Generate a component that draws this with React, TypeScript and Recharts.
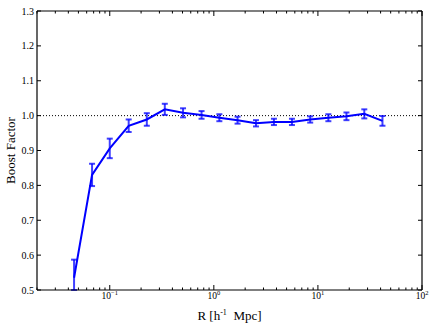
import { ComposedChart, ErrorBar, Line, ReferenceLine, XAxis, YAxis } from "recharts";

// projected radius bins and the measured boost factor
const radius = [0.0454, 0.0676, 0.1, 0.152, 0.227, 0.338, 0.506, 0.762, 1.13, 1.69, 2.54, 3.78, 5.63, 8.43, 12.6, 18.8, 27.9, 41.7];
const boost = [0.535, 0.83, 0.906, 0.971, 0.989, 1.018, 1.008, 1.002, 0.994, 0.987, 0.978, 0.982, 0.982, 0.989, 0.994, 0.998, 1.005, 0.985];
const boostErr = [0.052, 0.032, 0.028, 0.018, 0.018, 0.016, 0.013, 0.011, 0.01, 0.01, 0.009, 0.009, 0.009, 0.009, 0.01, 0.011, 0.013, 0.014];

const xMajorTicks = [0.1, 1, 10, 100];
const xExponents = ["\u22121", "0", "1", "2"];
const xMinorTicks = [
  0.02, 0.03, 0.04, 0.05, 0.06, 0.07, 0.08, 0.09,
  0.2, 0.3, 0.4, 0.5, 0.6, 0.7, 0.8, 0.9,
  2, 3, 4, 5, 6, 7, 8, 9,
  20, 30, 40, 50, 60, 70, 80, 90,
];
const yTicks = [0.5, 0.6, 0.7, 0.8, 0.9, 1.0, 1.1, 1.2, 1.3];
const yTickLabels = ["0.5", "0.6", "0.7", "0.8", "0.9", "1.0", "1.1", "1.2", "1.3"];

const Y_MIN = 0.5;
const Y_MAX = 1.3;

// error bars get clipped at the bottom of the axes like matplotlib does
const data = radius.map((r, i) => ({
  r,
  boost: boost[i],
  err: [Math.min(boostErr[i], boost[i] - Y_MIN), boostErr[i]],
}));
const allXTicks = [...xMajorTicks, ...xMinorTicks];

const FONT = '"Liberation Serif", "DejaVu Serif", serif';
const BLUE = "#0000ff";

function BottomTick(props: any) {
  const { x, y, payload } = props;
  const i = xMajorTicks.indexOf(payload.value);
  const major = i >= 0;
  return (
    <g>
      <line x1={x} x2={x} y1={y} y2={y - (major ? 5 : 2.5)} stroke="#000" />
      {major && (
        <text x={x} y={y + 8.5} textAnchor="middle" fontFamily={FONT} fontSize={9.5} fill="#000">
          10
          <tspan dy={-4} fontSize={6.5}>
            {xExponents[i]}
          </tspan>
        </text>
      )}
    </g>
  );
}

function TopTick(props: any) {
  const { x, y, payload } = props;
  const major = xMajorTicks.includes(payload.value);
  return <line x1={x} x2={x} y1={y} y2={y + (major ? 5 : 2.5)} stroke="#000" />;
}

function LeftTick(props: any) {
  const { x, y, payload } = props;
  const i = yTicks.indexOf(payload.value);
  return (
    <g>
      <line x1={x} x2={x + 4} y1={y} y2={y} stroke="#000" />
      <text x={x - 3} y={y + 3.5} textAnchor="end" fontFamily={FONT} fontSize={10} fill="#000">
        {yTickLabels[i]}
      </text>
    </g>
  );
}

function RightTick(props: any) {
  const { x, y } = props;
  return <line x1={x} x2={x - 4} y1={y} y2={y} stroke="#000" />;
}

function XLabel(props: any) {
  const vb = props.viewBox;
  return (
    <text x={vb.x + vb.width / 2} y={vb.y + 30} textAnchor="middle" fontFamily={FONT} fontSize={13} fill="#000">
      R [h
      <tspan dy={-5} fontSize={8}>
        -1
      </tspan>
      <tspan dy={5}>{"\u00a0 Mpc]"}</tspan>
    </text>
  );
}

function YLabel(props: any) {
  const vb = props.viewBox;
  const cx = vb.x + 15;
  const cy = vb.y + vb.height / 2;
  return (
    <text
      x={cx}
      y={cy}
      transform={`rotate(-90 ${cx} ${cy})`}
      textAnchor="middle"
      fontFamily={FONT}
      fontSize={13}
      fill="#000"
    >
      Boost Factor
    </text>
  );
}

export default function App() {
  return (
    <div style={{ position: "absolute", left: 0, top: 0, background: "#fff" }}>
      <ComposedChart width={436} height={329} data={data} margin={{ top: 10, right: 13, bottom: 0, left: 0 }}>
        <XAxis
          dataKey="r"
          type="number"
          scale="log"
          domain={[0.02, 100]}
          allowDataOverflow
          ticks={allXTicks}
          interval={0}
          height={39}
          tickSize={0}
          tickMargin={0}
          tickLine={false}
          tick={BottomTick}
          axisLine={{ stroke: "#000", strokeWidth: 1.2 }}
          label={XLabel}
        />
        <XAxis
          xAxisId="top"
          dataKey="r"
          orientation="top"
          type="number"
          scale="log"
          domain={[0.02, 100]}
          allowDataOverflow
          ticks={allXTicks}
          interval={0}
          height={1}
          tickSize={0}
          tickMargin={0}
          tickLine={false}
          tick={TopTick}
          axisLine={{ stroke: "#000", strokeWidth: 1.2 }}
        />
        <YAxis
          type="number"
          domain={[Y_MIN, Y_MAX]}
          allowDataOverflow
          ticks={yTicks}
          interval={0}
          width={37}
          tickSize={0}
          tickMargin={0}
          tickLine={false}
          tick={LeftTick}
          axisLine={{ stroke: "#000", strokeWidth: 1.2 }}
          label={YLabel}
        />
        <YAxis
          yAxisId="right"
          orientation="right"
          type="number"
          domain={[Y_MIN, Y_MAX]}
          allowDataOverflow
          ticks={yTicks}
          interval={0}
          width={1}
          tickSize={0}
          tickMargin={0}
          tickLine={false}
          tick={RightTick}
          axisLine={{ stroke: "#000", strokeWidth: 1.2 }}
        />
        <ReferenceLine y={1} stroke="#000" strokeDasharray="1 2" strokeWidth={1} />
        {/* invisible twin so the top/right frame axes have something to scale */}
        <Line
          xAxisId="top"
          yAxisId="right"
          dataKey="boost"
          stroke="none"
          dot={false}
          activeDot={false}
          legendType="none"
          isAnimationActive={false}
        />
        <Line
          dataKey="boost"
          stroke={BLUE}
          strokeWidth={2}
          dot={false}
          activeDot={false}
          isAnimationActive={false}
        >
          <ErrorBar dataKey="err" direction="y" width={3} stroke={BLUE} strokeOpacity={0.75} strokeWidth={2} isAnimationActive={false} />
        </Line>
      </ComposedChart>
    </div>
  );
}
